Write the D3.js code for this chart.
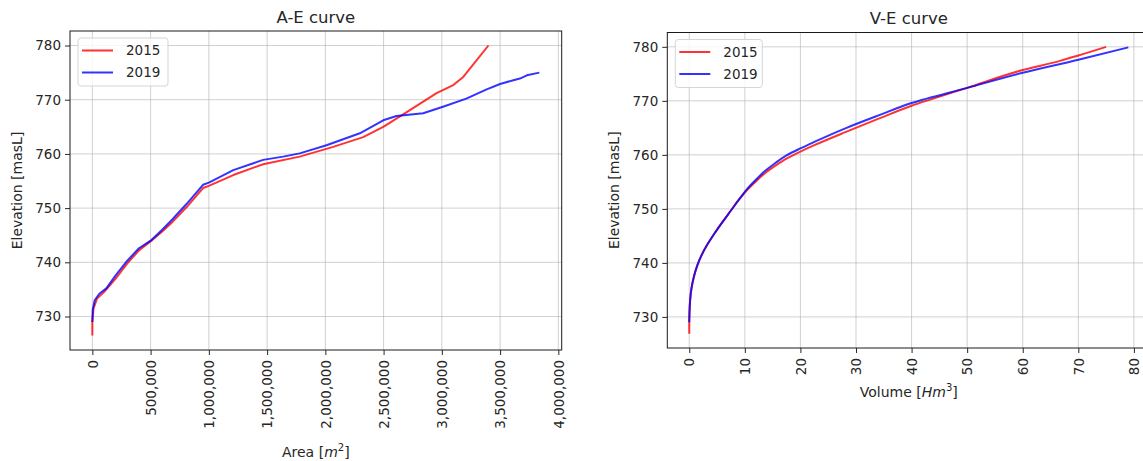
<!DOCTYPE html>
<html>
<head>
<meta charset="utf-8">
<script src="https://cdn.jsdelivr.net/npm/d3@7"></script>
<style>
  body { margin: 0; background: #fff; }
  svg { display: block; font-family: "DejaVu Sans", sans-serif; }
  .tick text { fill: #262626; }
</style>
</head>
<body>
<div id="chart"></div>
<script>
// A-E curve data (area in m2, elevation in masL)
var aeArea2015 = [0, 0, 10000, 40000, 100000, 200000, 300000, 400000, 507000, 600000, 690000, 810000, 950000, 1000000, 1210000, 1466000, 1780000, 2067000, 2325000, 2497000, 2668000, 2955000, 3098000, 3184000, 3400000];
var aeElev2015 = [726.5, 729, 731.5, 733.3, 734.5, 737, 739.8, 742.2, 744, 745.7, 747.5, 750.2, 753.7, 754.1, 756.1, 758.1, 759.5, 761.3, 763.1, 765, 767.3, 771.2, 772.7, 774.2, 780];
var aeArea2019 = [0, 3000, 20000, 60000, 120000, 200000, 300000, 400000, 507000, 600000, 690000, 810000, 950000, 1000000, 1210000, 1466000, 1637000, 1780000, 2010000, 2296000, 2497000, 2610000, 2840000, 3010000, 3210000, 3385000, 3500000, 3614000, 3670000, 3730000, 3837000];
var aeElev2019 = [729, 731.2, 733, 734.2, 735.2, 737.6, 740.3, 742.6, 744.1, 746, 748, 750.8, 754.3, 754.7, 757, 758.9, 759.5, 760.1, 761.6, 763.8, 766.2, 767, 767.5, 768.7, 770.2, 771.9, 772.9, 773.6, 773.9, 774.5, 775];

// V-E curve data (volume in Hm3, elevation in masL)
var veVol2015 = [0, 0, 0.05, 0.15, 0.4, 0.8, 1.4, 2.2, 3.2, 4.5, 6, 7.5, 9, 10.5, 12, 13.5, 15.5, 17.5, 20, 22.3, 28.3, 34.3, 40, 50, 60, 66.7, 70, 75];
var veElev2015 = [726.9, 729, 731, 733, 735.3, 737.3, 739.4, 741.4, 743.3, 745.4, 747.6, 749.7, 751.8, 753.6, 755.1, 756.5, 758, 759.3, 760.6, 761.7, 764.3, 766.8, 769.1, 772.4, 775.7, 777.4, 778.4, 780];
var veVol2019 = [0, 0.05, 0.15, 0.4, 0.8, 1.4, 2.2, 3.2, 4.5, 6, 7.5, 9, 10.5, 12, 13.5, 15.5, 17.5, 20, 22.3, 28.3, 34.3, 40, 50, 60, 70, 79];
var veElev2019 = [729, 731, 733, 735.3, 737.3, 739.4, 741.4, 743.3, 745.4, 747.6, 749.7, 751.8, 753.8, 755.4, 756.9, 758.5, 759.9, 761.2, 762.3, 765, 767.4, 769.6, 772.4, 775.2, 777.6, 779.9];

var seriesNames = ["2015", "2019"];
var seriesColors = ["red", "blue"];
var elevTicks = [730, 740, 750, 760, 770, 780];
var areaTicks = [0, 500000, 1000000, 1500000, 2000000, 2500000, 3000000, 3500000, 4000000];
var volTicks = [0, 10, 20, 30, 40, 50, 60, 70, 80];

var svgWidth = 1143;
var svgHeight = 461;

var svg = d3.select("#chart")
    .append("svg")
    .attr("width", svgWidth)
    .attr("height", svgHeight);

function zip(xs, ys) {
    return xs.map(function(x, i) { return {x: x, y: ys[i]}; });
}

// matplotlib-like 5% margins around the data
function padded(values) {
    var ext = d3.extent(values);
    var pad = (ext[1] - ext[0]) * 0.05;
    return [ext[0] - pad, ext[1] + pad];
}

function drawPanel(cfg) {
    var g = svg.append("g")
        .attr("transform", `translate(${cfg.left}, ${cfg.top})`);

    var allX = [].concat(cfg.series[0].map(d => d.x), cfg.series[1].map(d => d.x));
    var allY = [].concat(cfg.series[0].map(d => d.y), cfg.series[1].map(d => d.y));

    var xScale = d3.scaleLinear().domain(padded(allX)).range([0, cfg.width]);
    var yScale = d3.scaleLinear().domain(padded(allY)).range([cfg.height, 0]);

    // grid
    g.append("g").selectAll("line").data(cfg.xTicks).enter().append("line")
        .attr("x1", d => xScale(d)).attr("x2", d => xScale(d))
        .attr("y1", 0).attr("y2", cfg.height)
        .attr("stroke", "#b0b0b0").attr("stroke-opacity", 0.6);
    g.append("g").selectAll("line").data(elevTicks).enter().append("line")
        .attr("y1", d => yScale(d)).attr("y2", d => yScale(d))
        .attr("x1", 0).attr("x2", cfg.width)
        .attr("stroke", "#b0b0b0").attr("stroke-opacity", 0.6);

    // lines
    var line = d3.line()
        .x(d => xScale(d.x))
        .y(d => yScale(d.y))
        .curve(cfg.curve);
    cfg.series.forEach(function(s, i) {
        g.append("path")
            .datum(s)
            .attr("d", line)
            .attr("fill", "none")
            .attr("stroke", seriesColors[i])
            .attr("stroke-opacity", 0.8)
            .attr("stroke-width", 2)
            .attr("stroke-linejoin", "round");
    });

    // frame
    g.append("rect")
        .attr("width", cfg.width).attr("height", cfg.height)
        .attr("fill", "none").attr("stroke", "#1a1a1a").attr("stroke-width", 1);

    // axes
    var leftAxis = d3.axisLeft(yScale).tickValues(elevTicks)
        .tickSizeInner(5).tickSizeOuter(0).tickPadding(4);
    var yAxisG = g.append("g").call(leftAxis);
    yAxisG.select(".domain").remove();
    yAxisG.selectAll("text").attr("font-size", "13.5px").attr("font-family", "DejaVu Sans");
    yAxisG.selectAll("line").attr("stroke", "#262626");

    var bottomAxis = d3.axisBottom(xScale).tickValues(cfg.xTicks)
        .tickFormat(cfg.fmt).tickSizeInner(5).tickSizeOuter(0);
    var xAxisG = g.append("g")
        .attr("transform", `translate(0, ${cfg.height})`)
        .call(bottomAxis);
    xAxisG.select(".domain").remove();
    xAxisG.selectAll("line").attr("stroke", "#262626");
    xAxisG.selectAll("text")
        .attr("font-size", "13.5px")
        .attr("font-family", "DejaVu Sans")
        .attr("y", 0).attr("dy", "0.35em")
        .attr("transform", "translate(0, 10) rotate(-90)")
        .style("text-anchor", "end");

    // title
    g.append("text")
        .attr("x", cfg.width / 2).attr("y", -8.5)
        .style("text-anchor", "middle")
        .attr("font-size", "16.5px")
        .attr("fill", "#262626")
        .text(cfg.title);

    // y label
    g.append("text")
        .attr("transform", `translate(-48, ${cfg.height / 2}) rotate(-90)`)
        .style("text-anchor", "middle")
        .attr("font-size", "14px")
        .attr("fill", "#262626")
        .text("Elevation [masL]");

    // x label
    var xl = g.append("text")
        .attr("x", cfg.xLabelX).attr("y", cfg.xLabelY)
        .style("text-anchor", "middle")
        .attr("font-size", "14px")
        .attr("fill", "#262626");
    xl.append("tspan").text(cfg.xLabel[0] + " [");
    xl.append("tspan").attr("font-style", "italic").text(cfg.xLabel[1]);
    xl.append("tspan").attr("font-size", "10px").attr("dy", "-6").text(cfg.xLabel[2]);
    xl.append("tspan").attr("dy", "6").text("]");

    // legend
    var lg = g.append("g").attr("transform", "translate(8, 7)");
    lg.append("rect")
        .attr("width", cfg.legendWidth).attr("height", 48).attr("rx", 3)
        .attr("fill", "#fff").attr("fill-opacity", 0.8)
        .attr("stroke", "#d5d5d5");
    seriesNames.forEach(function(name, i) {
        lg.append("line")
            .attr("x1", 4).attr("x2", 35)
            .attr("y1", 12.5 + i * 22).attr("y2", 12.5 + i * 22)
            .attr("stroke", seriesColors[i]).attr("stroke-opacity", 0.8)
            .attr("stroke-width", 2);
        lg.append("text")
            .attr("x", 48).attr("y", 12.5 + i * 22).attr("dy", "0.35em")
            .attr("font-size", "13.5px").attr("fill", "#262626")
            .text(name);
    });
}

drawPanel({
    left: 70, top: 31, width: 491.7, height: 319,
    series: [zip(aeArea2015, aeElev2015), zip(aeArea2019, aeElev2019)],
    curve: d3.curveLinear,
    xTicks: areaTicks, fmt: d3.format(","),
    title: "A-E curve",
    xLabel: ["Area", "m", "2"], xLabelX: 245.8, xLabelY: 425.5,
    legendWidth: 90
});

drawPanel({
    left: 667.3, top: 32.5, width: 483, height: 315.5,
    series: [zip(veVol2015, veElev2015), zip(veVol2019, veElev2019)],
    curve: d3.curveMonotoneY,
    xTicks: volTicks, fmt: d3.format("d"),
    title: "V-E curve",
    xLabel: ["Volume", "Hm", "3"], xLabelX: 241.5, xLabelY: 364,
    legendWidth: 87
});
</script>
</body>
</html>
